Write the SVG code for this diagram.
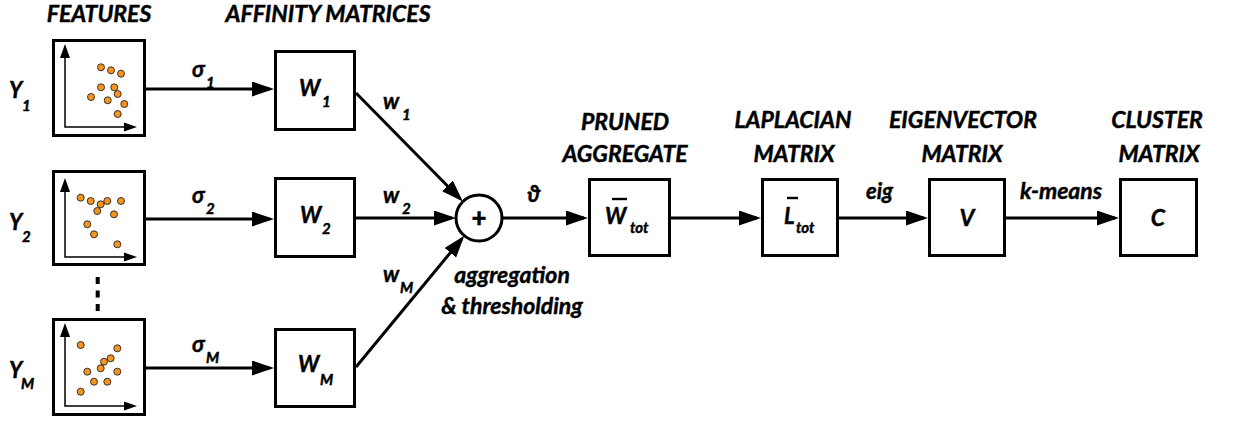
<svg xmlns="http://www.w3.org/2000/svg" width="1256" height="425" viewBox="0 0 1256 425">
<style>
text{font-family:Lato,"Liberation Sans",Arial,sans-serif;font-weight:bold;font-style:italic;fill:#000;stroke:#000;stroke-width:0.45}
.t{font-size:23px;text-anchor:middle}
.m{font-size:22px}
.s{font-size:15px}
.box{fill:#fff;stroke:#000;stroke-width:3}
.ax{stroke:#000;stroke-width:1.5;fill:none}
.ah{fill:#000}
.dot{fill:#F7941D;stroke:#222;stroke-width:0.9}
.c{stroke:#000;stroke-width:3;fill:none;marker-end:url(#arr)}
</style>
<defs>
<marker id="arr" markerUnits="userSpaceOnUse" markerWidth="22" markerHeight="16" refX="18" refY="7.5" orient="auto">
<path d="M0,0 L22,7.5 L0,15 z" fill="#000"/>
</marker>
</defs>

<text class="t" x="99" y="22">FEATURES</text>
<text class="t" x="328" y="22">AFFINITY MATRICES</text>

<g id="feature1">
<rect class="box" x="53.5" y="40.5" width="91" height="95"/>
<path class="ax" d="M65,56 V127 H126"/>
<path class="ah" d="M65,44 L60,58 L70,58 z M137,127 L124,122.5 L124,131.5 z"/>
<circle class="dot" cx="101" cy="67.3" r="3.5"/><circle class="dot" cx="111" cy="70.3" r="3.5"/><circle class="dot" cx="121" cy="73.7" r="3.5"/><circle class="dot" cx="101" cy="87.3" r="3.5"/><circle class="dot" cx="114.3" cy="87.3" r="3.5"/><circle class="dot" cx="117.7" cy="94" r="3.5"/><circle class="dot" cx="91" cy="97" r="3.5"/><circle class="dot" cx="107.7" cy="100.3" r="3.5"/><circle class="dot" cx="124.3" cy="104" r="3.5"/><circle class="dot" cx="117.7" cy="114" r="3.5"/>
<text class="m" x="9" y="98">Y</text><text class="s" x="22" y="111">1</text>
</g>

<g id="feature2">
<rect class="box" x="53.5" y="171.5" width="91" height="93"/>
<path class="ax" d="M65,190 V257 H126"/>
<path class="ah" d="M65,178 L60,192 L70,192 z M137,257 L124,252.5 L124,261.5 z"/>
<circle class="dot" cx="80.7" cy="197.7" r="3.5"/><circle class="dot" cx="90.7" cy="201" r="3.5"/><circle class="dot" cx="100.7" cy="204.3" r="3.5"/><circle class="dot" cx="107.3" cy="201" r="3.5"/><circle class="dot" cx="121" cy="201" r="3.5"/><circle class="dot" cx="97.3" cy="211" r="3.5"/><circle class="dot" cx="114" cy="214.3" r="3.5"/><circle class="dot" cx="87.3" cy="224.3" r="3.5"/><circle class="dot" cx="94" cy="234.3" r="3.5"/><circle class="dot" cx="117.3" cy="244.3" r="3.5"/>
<text class="m" x="9" y="230">Y</text><text class="s" x="22" y="242">2</text>
</g>

<g id="featureM">
<rect class="box" x="53.5" y="319.5" width="91" height="95"/>
<path class="ax" d="M65,335 V406 H126"/>
<path class="ah" d="M65,323 L60,337 L70,337 z M137,406 L124,401.5 L124,410.5 z"/>
<circle class="dot" cx="80.7" cy="345" r="3.5"/><circle class="dot" cx="117.3" cy="348.3" r="3.5"/><circle class="dot" cx="110.7" cy="358.3" r="3.5"/><circle class="dot" cx="104" cy="361.7" r="3.5"/><circle class="dot" cx="100.7" cy="368.3" r="3.5"/><circle class="dot" cx="87.3" cy="371.7" r="3.5"/><circle class="dot" cx="117.3" cy="371.7" r="3.5"/><circle class="dot" cx="94" cy="381.7" r="3.5"/><circle class="dot" cx="107.3" cy="381.7" r="3.5"/><circle class="dot" cx="80.7" cy="391.7" r="3.5"/>
<text class="m" x="9" y="378">Y</text><text class="s" x="21" y="389">M</text>
</g>

<g id="ellipsis">
<line x1="97.7" y1="277" x2="97.7" y2="312" stroke="#000" stroke-width="4" stroke-dasharray="7 6.5"/>
</g>

<g id="W1">
<rect class="box" x="275.5" y="51.5" width="79" height="78"/>
<text class="m" x="299" y="96">W</text><text class="s" x="322" y="107">1</text>
</g>
<g id="W2">
<rect class="box" x="275.5" y="178.5" width="79" height="78"/>
<text class="m" x="300" y="223">W</text><text class="s" x="322" y="234">2</text>
</g>
<g id="WM">
<rect class="box" x="275.5" y="329.5" width="79" height="77"/>
<text class="m" x="298" y="372">W</text><text class="s" x="320" y="385">M</text>
</g>

<g id="sum">
<circle cx="479" cy="218" r="23" fill="#fff" stroke="#000" stroke-width="3"/>
<text x="479" y="227" style="font-size:26px;font-style:normal;font-weight:900;text-anchor:middle">+</text>
</g>

<g id="Wtot">
<text class="t" x="625" y="130">PRUNED</text>
<text class="t" x="625" y="162">AGGREGATE</text>
<rect class="box" x="589.5" y="179.5" width="80" height="76"/>
<text class="m" x="605" y="224">W</text>
<line x1="612" y1="199" x2="627" y2="199" stroke="#000" stroke-width="2.4"/>
<text class="s" x="630" y="233">tot</text>
</g>

<g id="Ltot">
<text class="t" x="793" y="128">LAPLACIAN</text>
<text class="t" x="794" y="162">MATRIX</text>
<rect class="box" x="762.5" y="179.5" width="75" height="76"/>
<text class="m" x="784" y="224">L</text>
<line x1="787" y1="198" x2="798" y2="198" stroke="#000" stroke-width="2.4"/>
<text class="s" x="796" y="233">tot</text>
</g>

<g id="V">
<text class="t" x="963" y="128">EIGENVECTOR</text>
<text class="t" x="962" y="162">MATRIX</text>
<rect class="box" x="929.5" y="179.5" width="75" height="76"/>
<text class="t" x="967" y="226">V</text>
</g>

<g id="C">
<text class="t" x="1157" y="128">CLUSTER</text>
<text class="t" x="1159" y="162">MATRIX</text>
<rect class="box" x="1120.5" y="179.5" width="76" height="76"/>
<text class="t" x="1158" y="226">C</text>
</g>

<g id="connectors">
<line class="c" x1="146" y1="89" x2="270" y2="89"/>
<line class="c" x1="146" y1="219" x2="270" y2="219"/>
<line class="c" x1="146" y1="368" x2="270" y2="368"/>
<line class="c" x1="356" y1="93" x2="460.1" y2="198.7"/>
<line class="c" x1="356" y1="218" x2="452" y2="218"/>
<line class="c" x1="356" y1="367" x2="461.8" y2="238.8"/>
<line class="c" x1="502" y1="218" x2="584" y2="218"/>
<line class="c" x1="671" y1="218" x2="757" y2="218"/>
<line class="c" x1="839" y1="218" x2="924" y2="218"/>
<line class="c" x1="1006" y1="218" x2="1115" y2="218"/>
<text class="m" x="192" y="77">σ</text><text class="s" x="206" y="88">1</text>
<text class="m" x="192" y="203">σ</text><text class="s" x="206" y="214">2</text>
<text class="m" x="192" y="352">σ</text><text class="s" x="206" y="363">M</text>
<text class="m" x="383" y="109">w</text><text class="s" x="402" y="120">1</text>
<text class="m" x="383" y="203">w</text><text class="s" x="402" y="214">2</text>
<text class="m" x="383" y="282">w</text><text class="s" x="400" y="293">M</text>
<text class="m" x="527" y="202">ϑ</text>
<text class="t" x="512" y="283">aggregation</text>
<text class="t" x="512" y="314">&amp; thresholding</text>
<text class="m" x="866" y="199">eig</text>
<text class="t" x="1061" y="199">k-means</text>
</g>
</svg>
